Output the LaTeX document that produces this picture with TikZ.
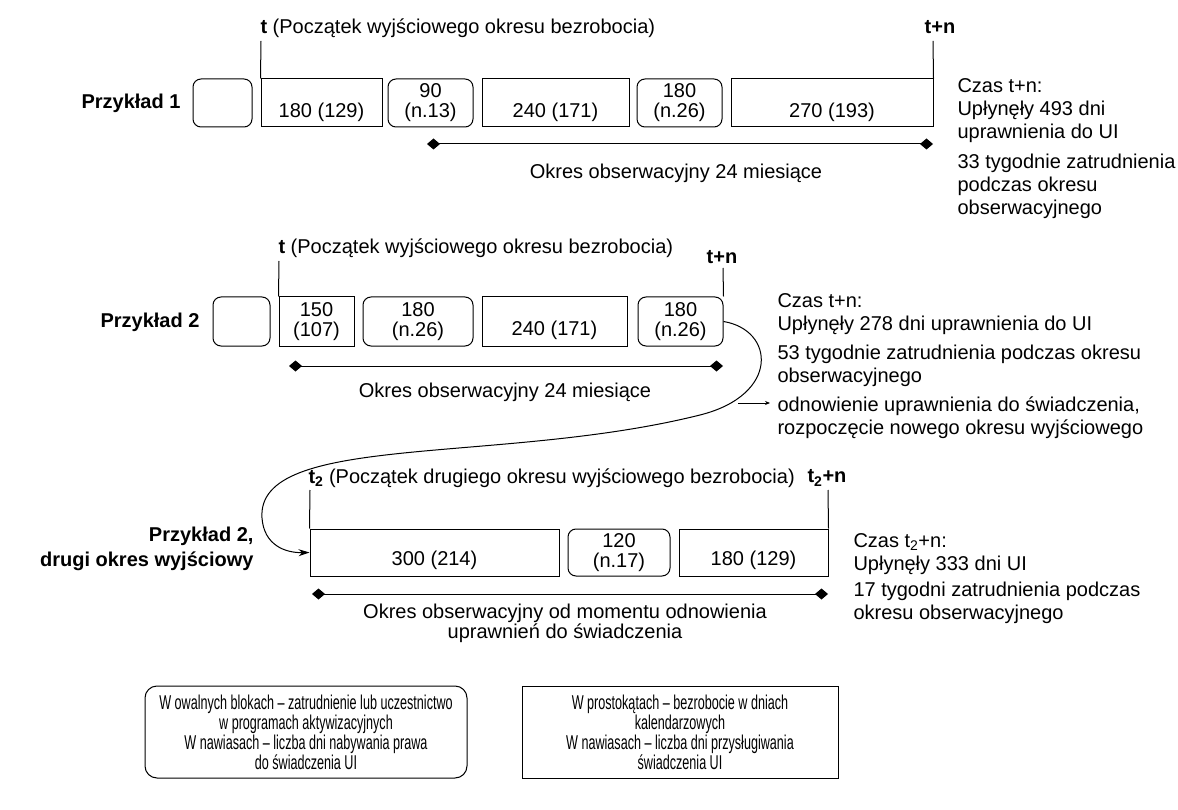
\documentclass[tikz,border=0pt]{standalone}
\usepackage{fontspec}
\setmainfont{Liberation Sans}
\newfontfamily\narrowfont[FakeStretch=0.63]{Liberation Sans}
\usetikzlibrary{arrows.meta}
\begin{document}
\begin{tikzpicture}[x=1pt,y=-1pt,
  font=\fontsize{20}{23}\selectfont,
  line width=1pt,
  rbox/.style={draw, rounded corners=8pt, inner sep=0pt, align=center, font=\fontsize{20}{20}\selectfont},
  sbox/.style={draw, inner sep=0pt},
  lbl/.style={inner sep=0pt},
  bl/.style={inner sep=0pt, font=\fontsize{20}{23}\selectfont\bfseries},
  para/.style={inner sep=0pt, anchor=north west, align=left, font=\fontsize{20}{23}\selectfont},
  obs/.style={{Diamond[length=13pt,width=11pt]}-{Diamond[length=13pt,width=11pt]}},
  legend/.style={inner sep=0pt, align=center, font=\narrowfont\fontsize{20}{20}\selectfont}
]
\useasboundingbox (0,0) rectangle (1178,810);

% ---------------- Row 1 ----------------
\node[bl, anchor=east] (p1) at (181,103) {Przykład 1};
\node[rbox, minimum width=59pt, minimum height=48pt] (e1) at (222.5,103) {};
\node[sbox, minimum width=121pt, minimum height=48pt] (a1) at (321.5,103) {};
\node[lbl] (a1t) at ([yshift=-9pt]a1.center) {180 (129)};
\node[rbox, minimum width=85pt, minimum height=48pt] (b1) at (430.5,103) {90\\(n.13)};
\node[sbox, minimum width=147pt, minimum height=48pt] (c1) at (555.5,103) {};
\node[lbl] (c1t) at ([yshift=-9pt]c1.center) {240 (171)};
\node[rbox, minimum width=85pt, minimum height=48pt] (d1) at (679.5,103) {180\\(n.26)};
\node[sbox, minimum width=202pt, minimum height=48pt] (f1) at (832,103) {};
\node[lbl] (f1t) at ([yshift=-9pt]f1.center) {270 (193)};

\coordinate (t1) at (261,41);
\draw (t1) -- (a1.north west);
\node[lbl, anchor=west] (t1l) at (260,28) {\textbf{t} (Początek wyjściowego okresu bezrobocia)};
\coordinate (tn1) at (933,41);
\draw (tn1) -- (f1.north east);
\node[bl] (tn1l) at (940,27) {t+n};

\coordinate (o1s) at (427,144);
\coordinate (o1e) at (933,144);
\draw[obs] (o1s) -- (o1e);
\node[lbl] (ok1) at (676,173) {Okres obserwacyjny 24 miesiące};

\node[para] (r1a) at (957,78) {Czas t+n:\\Upłynęły 493 dni\\uprawnienia do UI};
\node[para] (r1b) at (957,154) {33 tygodnie zatrudnienia\\podczas okresu\\obserwacyjnego};

% ---------------- Row 2 ----------------
\node[bl, anchor=east] (p2) at (200,322) {Przykład 2};
\node[rbox, minimum width=57pt, minimum height=49pt] (e2) at (241.5,321.5) {};
\node[sbox, minimum width=75pt, minimum height=49pt, align=center, font=\fontsize{20}{20}\selectfont] (a2) at (316.5,321.5) {150\\(107)};
\node[rbox, minimum width=110pt, minimum height=49pt] (b2) at (418,321.5) {180\\(n.26)};
\node[sbox, minimum width=145pt, minimum height=49pt] (c2) at (554.5,321.5) {};
\node[lbl] (c2t) at ([yshift=-9pt]c2.center) {240 (171)};
\node[rbox, minimum width=85pt, minimum height=49pt] (d2) at (680.5,321.5) {180\\(n.26)};

\coordinate (t2) at (279,261);
\draw (t2) -- (a2.north west);
\node[lbl, anchor=west] (t2l) at (278,248) {\textbf{t} (Początek wyjściowego okresu bezrobocia)};
\coordinate (tn2) at (723,268);
\draw (tn2) -- (d2.north east);
\node[bl] (tn2l) at (722,257) {t+n};

\coordinate (o2s) at (289,366);
\coordinate (o2e) at (723,366);
\draw[obs] (o2s) -- (o2e);
\node[lbl] (ok2) at (505,392) {Okres obserwacyjny 24 miesiące};

\node[para] (r2a) at (777,293) {Czas t+n:\\Upłynęły 278 dni uprawnienia do UI};
\node[para] (r2b) at (777,345) {53 tygodnie zatrudnienia podczas okresu\\obserwacyjnego};
\node[para] (r2c) at (777,396) {odnowienie uprawnienia do świadczenia,\\rozpoczęcie nowego okresu wyjściowego};

% ---------------- Row 3 ----------------
\node[bl, anchor=east, align=right, font=\fontsize{20}{25}\selectfont\bfseries] (p3) at (254,549) {Przykład 2,\\drugi okres wyjściowy};
\node[sbox, minimum width=249pt, minimum height=47pt] (a3) at (434.5,552.5) {};
\node[lbl] (a3t) at ([yshift=-8pt]a3.center) {300 (214)};
\node[rbox, minimum width=102pt, minimum height=47pt] (b3) at (619,552.5) {120\\(n.17)};
\node[sbox, minimum width=149pt, minimum height=47pt] (c3) at (753.5,552.5) {};
\node[lbl] (c3t) at ([yshift=-8pt]c3.center) {180 (129)};

\coordinate (t3) at (310,490);
\draw (t3) -- (a3.north west);
\node[lbl, anchor=west] (t3l) at (308,478) {\textbf{t\textsubscript{2}} (Początek drugiego okresu wyjściowego bezrobocia)};
\coordinate (tn3) at (828,490);
\draw (tn3) -- (c3.north east);
\node[bl] (tn3l) at (827,478) {t\textsubscript{2}+n};

\coordinate (o3s) at (312,594);
\coordinate (o3e) at (828,594);
\draw[obs] (o3s) -- (o3e);
\node[lbl, align=center, font=\fontsize{20}{20}\selectfont] (ok3) at (565,623) {Okres obserwacyjny od momentu odnowienia\\uprawnień do świadczenia};

\node[para] (r3a) at (853,533) {Czas t\textsubscript{2}+n:\\Upłynęły 333 dni UI};
\node[para] (r3b) at (853,582) {17 tygodni zatrudnienia podczas\\okresu obserwacyjnego};

% ---------------- connectors ----------------
\coordinate (k1) at (700,415);
\coordinate (k2) at (262,518);
\draw[-{Stealth[length=11pt,width=7pt]}] (d2.east) .. controls (775,330) and (780,395) .. (k1)
  .. controls (500,465) and (256,432) .. (k2)
  .. controls (264,545) and (285,553) .. (a3.west);
\coordinate (ar1) at (738,403);
\coordinate (ar2) at (770,403);
\draw[-{Stealth[length=5pt,width=4pt]}, line width=0.8pt] (ar1) -- (ar2);

% ---------------- legend ----------------
\node[draw, rounded corners=12pt, minimum width=322pt, minimum height=92pt, inner sep=0pt] (lg1) at (306,732) {};
\node[legend] (lg1t) at (lg1.center) {W owalnych blokach – zatrudnienie lub uczestnictwo\\w programach aktywizacyjnych\\W nawiasach – liczba dni nabywania prawa\\do świadczenia UI};
\node[draw, minimum width=316pt, minimum height=92pt, inner sep=0pt] (lg2) at (680,732) {};
\node[legend] (lg2t) at (lg2.center) {W prostokątach – bezrobocie w dniach\\kalendarzowych\\W nawiasach – liczba dni przysługiwania\\świadczenia UI};
\end{tikzpicture}
\end{document}
